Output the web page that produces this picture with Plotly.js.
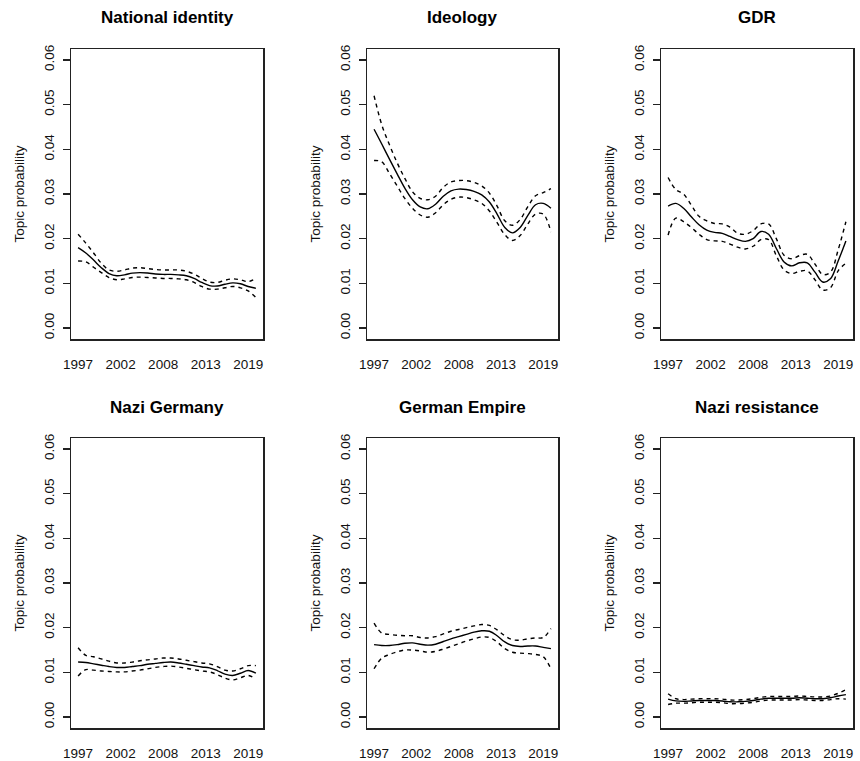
<!DOCTYPE html>
<html>
<head>
<meta charset="utf-8">
<script src="https://cdn.plot.ly/plotly-3.0.1.min.js"></script>
<style>html,body{margin:0;padding:0;background:#fff;}#chart{width:860px;height:761px;}</style>
</head>
<body>
<div id="chart"></div>
<script>
const years = [1997,1998,1999,2000,2001,2002,2003,2004,2005,2006,2007,2008,2009,2010,2011,2012,2013,2014,2015,2016,2017,2018,2019,2020];
const tickYears = [1997, 2002.5, 2008, 2013.5, 2019];
const tickLabels = ["1997","2002","2008","2013","2019"];
const yTicks = [0, 0.01, 0.02, 0.03, 0.04, 0.05, 0.06];
const panelTitles = ["National identity","Ideology","GDR","Nazi Germany","German Empire","Nazi resistance"];
const yLabel = "Topic probability";

const natMean  = [0.0180,0.0168,0.0152,0.0135,0.0122,0.0117,0.0119,0.0123,0.0124,0.0123,0.0121,0.0120,0.0120,0.0119,0.0117,0.0111,0.0102,0.0095,0.0094,0.0098,0.0101,0.0099,0.0093,0.0089];
const natUpper = [0.0210,0.0190,0.0168,0.0145,0.0130,0.0127,0.0130,0.0134,0.0135,0.0133,0.0131,0.0130,0.0130,0.0130,0.0127,0.0121,0.0111,0.0103,0.0102,0.0107,0.0110,0.0108,0.0104,0.0111];
const natLower = [0.0150,0.0148,0.0136,0.0124,0.0113,0.0108,0.0110,0.0113,0.0114,0.0113,0.0112,0.0111,0.0111,0.0110,0.0108,0.0102,0.0093,0.0087,0.0087,0.0090,0.0093,0.0090,0.0083,0.0068];

const ideoMean  = [0.0445,0.0412,0.0378,0.0345,0.0313,0.0287,0.0271,0.0267,0.0277,0.0295,0.0307,0.0311,0.0310,0.0306,0.0298,0.0282,0.0255,0.0225,0.0213,0.0225,0.0252,0.0276,0.0279,0.0268];
const ideoUpper = [0.0520,0.0455,0.0410,0.0370,0.0335,0.0305,0.0290,0.0287,0.0295,0.0315,0.0327,0.0330,0.0330,0.0326,0.0318,0.0302,0.0273,0.0240,0.0230,0.0243,0.0272,0.0296,0.0303,0.0312];
const ideoLower = [0.0375,0.0372,0.0346,0.0318,0.0290,0.0268,0.0253,0.0248,0.0258,0.0276,0.0288,0.0293,0.0292,0.0287,0.0279,0.0262,0.0236,0.0209,0.0196,0.0207,0.0233,0.0255,0.0255,0.0215];

const gdrMean  = [0.0273,0.0279,0.0268,0.0249,0.0231,0.0219,0.0214,0.0212,0.0205,0.0198,0.0194,0.0200,0.0216,0.0210,0.0178,0.0148,0.0139,0.0146,0.0146,0.0125,0.0103,0.0110,0.0150,0.0195];
const gdrUpper = [0.0337,0.0310,0.0300,0.0275,0.0250,0.0240,0.0234,0.0233,0.0226,0.0212,0.0210,0.0218,0.0233,0.0233,0.0200,0.0163,0.0155,0.0162,0.0165,0.0143,0.0120,0.0125,0.0175,0.0238];
const gdrLower = [0.0208,0.0246,0.0238,0.0225,0.0210,0.0198,0.0195,0.0194,0.0188,0.0181,0.0177,0.0183,0.0198,0.0198,0.0162,0.0130,0.0122,0.0127,0.0128,0.0108,0.0085,0.0090,0.0128,0.0145];

const naziMean  = [0.0123,0.0122,0.0119,0.0116,0.0113,0.0111,0.0111,0.0113,0.0115,0.0118,0.0120,0.0122,0.0123,0.0121,0.0118,0.0115,0.0112,0.0110,0.0104,0.0096,0.0093,0.0098,0.0104,0.0098];
const naziUpper = [0.0155,0.0138,0.0135,0.0130,0.0125,0.0121,0.0121,0.0123,0.0126,0.0128,0.0130,0.0132,0.0132,0.0130,0.0127,0.0124,0.0121,0.0119,0.0113,0.0105,0.0103,0.0108,0.0115,0.0115];
const naziLower = [0.0092,0.0106,0.0105,0.0103,0.0102,0.0101,0.0101,0.0103,0.0105,0.0108,0.0111,0.0113,0.0114,0.0112,0.0109,0.0106,0.0103,0.0101,0.0095,0.0087,0.0083,0.0088,0.0093,0.0085];

const empMean  = [0.0162,0.0160,0.0160,0.0162,0.0165,0.0166,0.0163,0.0161,0.0163,0.0169,0.0175,0.0180,0.0185,0.0190,0.0193,0.0192,0.0182,0.0168,0.0160,0.0158,0.0159,0.0159,0.0156,0.0153];
const empUpper = [0.0210,0.0188,0.0185,0.0183,0.0182,0.0182,0.0178,0.0177,0.0180,0.0186,0.0192,0.0196,0.0200,0.0204,0.0207,0.0205,0.0195,0.0182,0.0173,0.0172,0.0175,0.0177,0.0178,0.0198];
const empLower = [0.0108,0.0132,0.0140,0.0146,0.0150,0.0150,0.0148,0.0145,0.0147,0.0152,0.0158,0.0164,0.0170,0.0175,0.0179,0.0178,0.0168,0.0153,0.0145,0.0143,0.0142,0.0140,0.0135,0.0108];

const resMean  = [0.0040,0.0036,0.0035,0.0036,0.0037,0.0037,0.0037,0.0036,0.0034,0.0034,0.0035,0.0037,0.0040,0.0042,0.0042,0.0042,0.0042,0.0043,0.0042,0.0041,0.0041,0.0043,0.0047,0.0050];
const resUpper = [0.0052,0.0041,0.0039,0.0040,0.0041,0.0041,0.0041,0.0040,0.0038,0.0038,0.0039,0.0041,0.0044,0.0046,0.0046,0.0046,0.0046,0.0047,0.0046,0.0045,0.0045,0.0047,0.0053,0.0061];
const resLower = [0.0028,0.0031,0.0031,0.0032,0.0033,0.0033,0.0033,0.0032,0.0030,0.0030,0.0031,0.0033,0.0036,0.0038,0.0038,0.0038,0.0038,0.0039,0.0038,0.0037,0.0037,0.0039,0.0041,0.0040];

const panels = [
  [natMean, natUpper, natLower],
  [ideoMean, ideoUpper, ideoLower],
  [gdrMean, gdrUpper, gdrLower],
  [naziMean, naziUpper, naziLower],
  [empMean, empUpper, empLower],
  [resMean, resUpper, resLower]
];

const W = 860, H = 761;
const colPx = [[71,263],[367,558],[661,853]];
const rowPx = [[49,339],[438,728]];
const FONT = "Liberation Sans, Arial, Helvetica, sans-serif";

const traces = [];
const layout = {
  width: W, height: H,
  margin: {l:0, r:0, t:0, b:0},
  paper_bgcolor: "#fff", plot_bgcolor: "#fff",
  showlegend: false,
  font: {family: FONT, color: "#000", size: 13},
  annotations: []
};

panels.forEach((p, i) => {
  const r = Math.floor(i / 3), c = i % 3;
  const n = i + 1;
  const xa = n === 1 ? "x" : "x" + n;
  const ya = n === 1 ? "y" : "y" + n;
  const lineStyle = {color: "#000", width: 1.4, shape: "spline", smoothing: 1};
  traces.push({x: years, y: p[0], xaxis: xa, yaxis: ya, mode: "lines", line: lineStyle, hoverinfo: "skip"});
  traces.push({x: years, y: p[1], xaxis: xa, yaxis: ya, mode: "lines", line: Object.assign({}, lineStyle, {dash: "4px,4px"}), hoverinfo: "skip"});
  traces.push({x: years, y: p[2], xaxis: xa, yaxis: ya, mode: "lines", line: Object.assign({}, lineStyle, {dash: "4px,4px"}), hoverinfo: "skip"});

  const xd = [colPx[c][0] / W, colPx[c][1] / W];
  const yd = [(H - rowPx[r][1]) / H, (H - rowPx[r][0]) / H];
  layout["xaxis" + (n === 1 ? "" : n)] = {
    domain: xd, anchor: ya, range: [1996.08, 2020.92],
    tickmode: "array", tickvals: tickYears, ticktext: tickLabels,
    ticks: "", showgrid: false, zeroline: false,
    showline: true, mirror: true, linecolor: "#222", linewidth: 1.5,
    tickfont: {size: 13.5, color: "#111"}, ticklabelstandoff: 12
  };
  layout["yaxis" + (n === 1 ? "" : n)] = {
    domain: yd, anchor: xa, range: [-0.00246, 0.06246],
    tickmode: "array", tickvals: yTicks, tickformat: ".2f",
    ticks: "outside", ticklen: 7, tickwidth: 1.3, tickcolor: "#222",
    tickangle: -90, showgrid: false, zeroline: false,
    showline: true, mirror: true, linecolor: "#222", linewidth: 1.5,
    tickfont: {size: 13.5, color: "#111"}, ticklabelstandoff: 3,
    title: {text: yLabel, font: {size: 13.5, color: "#111"}, standoff: 14}
  };
  layout.annotations.push({
    text: "<b>" + panelTitles[i] + "</b>",
    xref: "paper", yref: "paper",
    x: (colPx[c][0] + colPx[c][1]) / 2 / W,
    y: (H - (r === 0 ? 17 : 407)) / H,
    xanchor: "center", yanchor: "middle", showarrow: false,
    font: {size: 17, color: "#000", family: FONT}
  });
});

Plotly.newPlot("chart", traces, layout, {displayModeBar: false, staticPlot: true});
</script>
</body>
</html>
